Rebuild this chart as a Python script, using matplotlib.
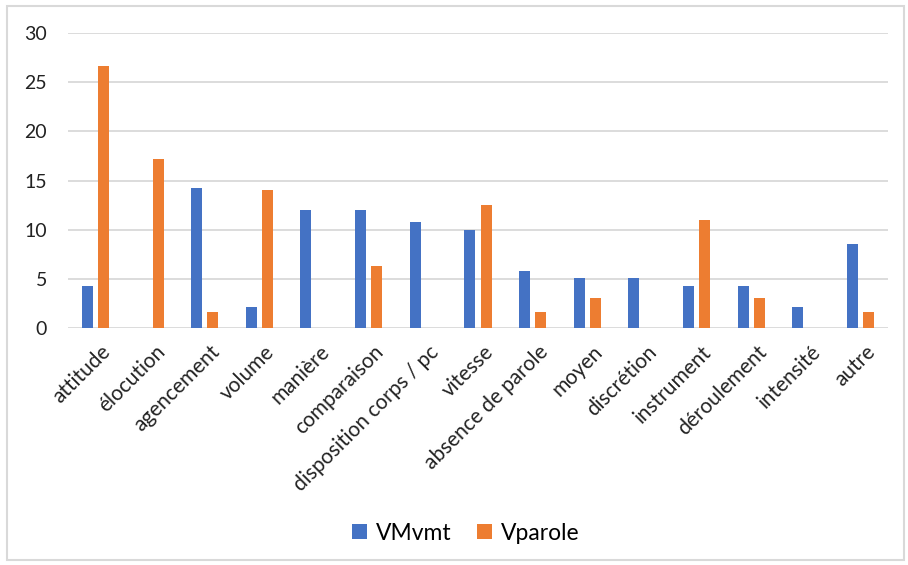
import matplotlib.pyplot as plt
import matplotlib.transforms as mtransforms
import numpy as np
from matplotlib.patches import Rectangle

plt.rcParams['font.family'] = ['Lato', 'DejaVu Sans']

categories = ['attitude', 'élocution', 'agencement', 'volume', 'manière',
              'comparaison', 'disposition corps / pc', 'vitesse',
              'absence de parole', 'moyen', 'discrétion', 'instrument',
              'déroulement', 'intensité', 'autre']
vmvmt = [4.3, 0, 14.2, 2.1, 12.0, 12.0, 10.8, 10.0, 5.8, 5.1, 5.1, 4.3, 4.3, 2.1, 8.5]
vparole = [26.6, 17.2, 1.6, 14.0, 0, 6.3, 0, 12.5, 1.6, 3.1, 0, 11.0, 3.1, 0, 1.6]

blue = '#4472c4'
orange = '#ed7d31'

fig = plt.figure(figsize=(9.08, 5.65), dpi=100)
ax = fig.add_axes([68 / 908, 1 - 328 / 565, 820 / 908, 295 / 565])

x = np.arange(len(categories))
w = 0.2
ax.bar(x - 0.15, vmvmt, w, color=blue, label='VMvmt', zorder=3)
ax.bar(x + 0.15, vparole, w, color=orange, label='Vparole', zorder=3)

ax.set_xlim(-0.5, len(categories) - 0.5)
ax.set_ylim(0, 30)
ax.set_yticks(range(0, 31, 5))
ax.yaxis.grid(True, color='#d9d9d9', linewidth=1.3, zorder=0)
for s in ax.spines.values():
    s.set_visible(False)
ax.tick_params(axis='both', length=0, colors='#222222')
ax.tick_params(axis='y', pad=15, labelsize=14)
ax.set_xticks(x)
ax.set_xticklabels(categories, rotation=45, ha='right', rotation_mode='anchor',
                   fontsize=15)
ax.tick_params(axis='x', pad=10)
# nudge rotated labels a little to the right of the tick
shift = mtransforms.ScaledTranslation(5 / 100, 0, fig.dpi_scale_trans)
for lbl in ax.get_xticklabels():
    lbl.set_transform(lbl.get_transform() + shift)

ax.legend(loc='center', bbox_to_anchor=(466 / 908, 1 - 533 / 565),
          bbox_transform=fig.transFigure, ncol=2, frameon=False,
          fontsize=16.5, handlelength=0.65, handleheight=0.65,
          handletextpad=0.4, columnspacing=1.1)

fig.patches.append(Rectangle((7 / 908, 5 / 565), 897 / 908, 554 / 565,
                             transform=fig.transFigure, fill=False,
                             edgecolor='#d9d9d9', linewidth=1.5))

fig.savefig('out.png', dpi=100)
